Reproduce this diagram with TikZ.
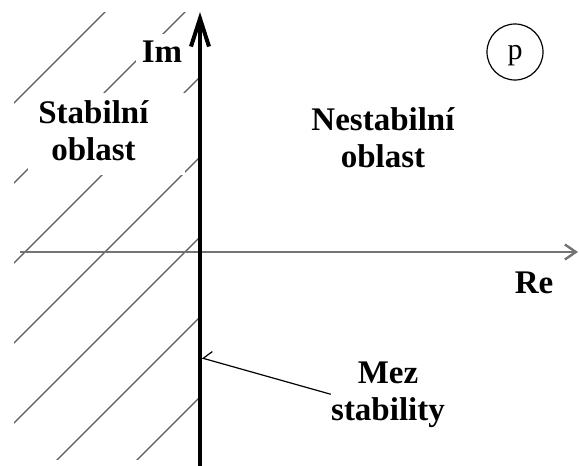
\documentclass[tikz,border=0pt]{standalone}
\usepackage{fontspec}
\setmainfont{Liberation Serif}
\usetikzlibrary{arrows.meta}

\begin{document}
\begin{tikzpicture}[x=0.5pt, y=-0.5pt,
  lbl/.style={font=\fontsize{16.5}{18.5}\selectfont\bfseries, align=center, inner sep=0pt},
  mask/.style={fill=white, inner xsep=5pt, inner ysep=2pt},
  hatch/.style={black!65, line width=0.7pt},
  imax/.style={line width=2pt, -{Straight Barb[length=14pt, width=9pt]}},
  reax/.style={black!55, line width=1.2pt, -{Straight Barb[length=5.5pt, width=7.5pt]}},
  lead/.style={line width=0.6pt, -{Straight Barb[right, length=3.5pt, width=9pt]}}]
\useasboundingbox (0,0) rectangle (579,466);
% hatched stable half-plane
\begin{scope}
  \clip (14,12) rectangle (198,459);
  \foreach \c in {117,197,...,597}
    \draw[hatch] (\c,0) -- ++(-480,480);
\end{scope}
\coordinate (imtop) at (200,12);
\coordinate (imbot) at (200,466);
\coordinate (releft) at (20,252);
\coordinate (reright) at (578,252);
\coordinate (hit) at (202,358);
% labels
\node[lbl, mask, anchor=base west] (stab) at (28,123)
  {\begin{tabular}[t]{@{}c@{}}Stabilní\\oblast\end{tabular}\hspace*{13.5pt}};
\node[lbl, fill=white, inner sep=3pt, anchor=base] (im) at (162,62) {Im};
\node[lbl, anchor=base] (nest) at (383,167) {Nestabilní\\oblast};
\node[lbl, anchor=base] (re) at (534,293) {Re};
\node[lbl, anchor=base] (mez) at (388,420) {Mez\\stability};
\node[draw, circle, minimum size=28pt, inner sep=0pt, line width=0.6pt,
  font=\fontsize{15}{17}\selectfont, text depth=0pt] (pl) at (515,52) {p};
% axes
\draw[reax] (releft) -- (reright);
\draw[imax] (imbot) -- (imtop);
\draw[lead] (mez.west) -- (hit);
\end{tikzpicture}
\end{document}
